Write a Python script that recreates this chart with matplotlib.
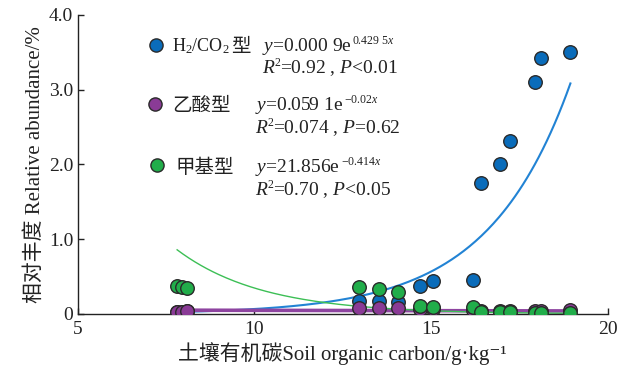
import numpy as np
import matplotlib
matplotlib.use('Agg')
import matplotlib.pyplot as plt

plt.rcParams['font.family'] = ['Liberation Serif', 'Noto Sans CJK SC', 'DejaVu Serif']
plt.rcParams['mathtext.fontset'] = 'custom'
plt.rcParams['mathtext.rm'] = 'Liberation Serif'
plt.rcParams['mathtext.it'] = 'Liberation Serif:italic'

# Soil organic carbon (g/kg) per sample
soc = [7.82, 7.95, 8.11, 12.96, 13.54, 14.07, 14.69, 15.07,
       16.18, 16.41, 16.97, 17.23, 17.94, 18.13, 18.95]
# Relative abundance (%) per methanogen type
h2co2 = [0.03, 0.03, 0.04, 0.18, 0.18, 0.165, 0.38, 0.44,
         0.46, 1.75, 2.00, 2.31, 3.10, 3.43, 3.50]
acetate = [0.03, 0.03, 0.045, 0.076, 0.076, 0.085, 0.06, 0.06,
           0.05, 0.04, 0.04, 0.04, 0.04, 0.04, 0.05]
methyl = [0.375, 0.357, 0.344, 0.365, 0.33, 0.30, 0.10, 0.09,
          0.09, 0.02, 0.02, 0.02, 0.01, 0.01, 0.01]

# exponential fits y = a*exp(b*x) as printed on the chart
fits = {
    'h2co2': (0.0009, 0.4295),
    'acetate': (0.0591, -0.02),
    'methyl': (21.856, -0.414),
}

C_BLUE = '#0a6cba'
C_PURPLE = '#8a3b96'
C_GREEN = '#21ad4a'
LINE_BLUE = '#2283d4'
LINE_PURPLE = '#8e44a0'
LINE_GREEN = '#3cbf55'

fig = plt.figure(figsize=(6.25, 3.72), dpi=100)
ax = fig.add_axes([0.124, 0.156, 0.848, 0.804])

xs = np.linspace(min(soc), max(soc), 200)
a, b = fits['h2co2']
ax.plot(xs, a * np.exp(b * xs), color=LINE_BLUE, lw=1.5, zorder=2)
a, b = fits['acetate']
ax.plot(xs, a * np.exp(b * xs), color=LINE_PURPLE, lw=2.6, zorder=2)
a, b = fits['methyl']
ax.plot(xs, a * np.exp(b * xs), color=LINE_GREEN, lw=1.0, zorder=2)

ms = 95
ax.scatter(soc, h2co2, s=ms, c=C_BLUE, edgecolors='#2a2a2a', linewidths=1.0, zorder=3)
ax.scatter(soc, acetate, s=ms, c=C_PURPLE, edgecolors='#2a2a2a', linewidths=1.0, zorder=4)
ax.scatter(soc, methyl, s=ms, c=C_GREEN, edgecolors='#2a2a2a', linewidths=1.0, zorder=5)

ax.set_xlim(5, 20)
ax.set_ylim(0, 4.0)
ax.set_xticks([5, 10, 15, 20])
ax.set_xticklabels(['5', '10', '15', '20'])
ax.set_yticks([0, 1, 2, 3, 4])
ax.set_yticklabels(['0', '1.0', '2.0', '3.0', '4.0'])
ax.tick_params(direction='in', length=4, width=1, colors='#222222', labelsize=14, pad=3)
ax.tick_params(axis='x', pad=5)
for s in ['top', 'right']:
    ax.spines[s].set_visible(False)
for s in ['left', 'bottom']:
    ax.spines[s].set_color('#222222')
    ax.spines[s].set_linewidth(1.0)

ax.set_xlabel('土壤有机碳Soil organic carbon/g·kg⁻¹', fontsize=15, color='#222222', labelpad=3)
ax.set_ylabel('相对丰度 Relative abundance/%', fontsize=15, color='#222222', labelpad=3)


def fx(px):
    return px / 625


def fy(py):
    return 1 - py / 372


fig.canvas.draw()
W = fig.bbox.width


def after(t, gap=0.0):
    return t.get_window_extent().x1 / W + gap


# legend-like annotations
fs = 14
for (mx, my), col in zip([(156, 45), (155, 103.5), (157, 165.5)], [C_BLUE, C_PURPLE, C_GREEN]):
    fig.add_artist(plt.Line2D([fx(mx)], [fy(my)], marker='o', markersize=9.5,
                              markerfacecolor=col, markeredgecolor='#2a2a2a',
                              markeredgewidth=1.0, transform=fig.transFigure))

kw = dict(fontsize=fs, va='baseline', ha='left', color='#222222')
skw = dict(fontsize=8.5, va='baseline', ha='left', color='#222222')


def r2_line(px, py, rest):
    t = fig.text(fx(px), fy(py), 'R', style='italic', **kw)
    t2 = fig.text(after(t, 0.0005), fy(py - 7), '2', **skw)
    fig.text(after(t2, 0.0005), fy(py), rest, **kw)


t = fig.text(fx(172), fy(51), 'H$_2$/CO$_2$', fontsize=13, va='baseline', ha='left', color='#222222')
fig.text(after(t, 0.002), fy(52), '型', family=['Noto Sans CJK SC'], **kw)
t = fig.text(fx(262), fy(51), r'$y$=0.000 9e', **kw)
fig.text(after(t, 0.001), fy(44), r'0.429 5$x$', **skw)
r2_line(262, 73, r'=0.92 , $P$<0.01')

fig.text(fx(172), fy(111), '乙酸型', family=['Noto Sans CJK SC'], **kw)
t = fig.text(fx(255), fy(110), r'$y$=0.059 1e', **kw)
fig.text(after(t, 0.001), fy(103), r'−0.02$x$', **skw)
r2_line(255, 133, r'=0.074 , $P$=0.62')

fig.text(fx(175), fy(173), '甲基型', family=['Noto Sans CJK SC'], **kw)
t = fig.text(fx(255), fy(172), r'$y$=21.856e', **kw)
fig.text(after(t, 0.001), fy(165), r'−0.414$x$', **skw)
r2_line(255, 195, r'=0.70 , $P$<0.05')

fig.savefig('out.png', dpi=100)
